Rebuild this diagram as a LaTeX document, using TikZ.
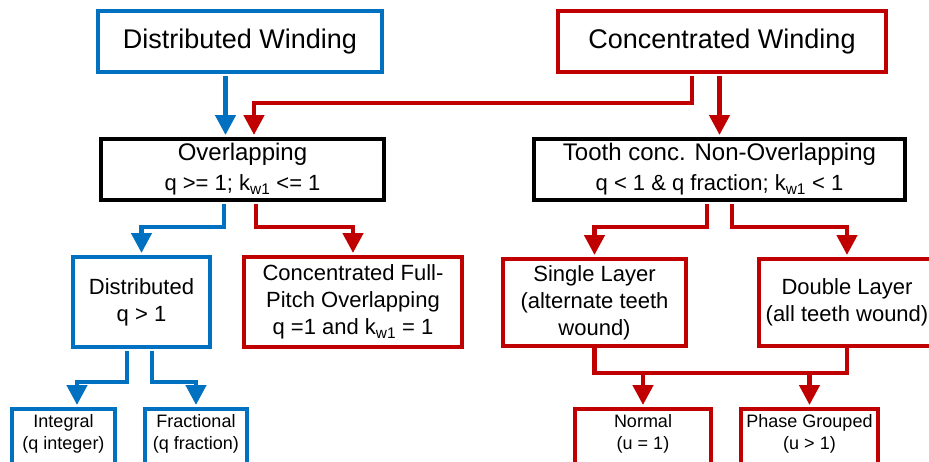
\documentclass[tikz,border=0pt]{standalone}
\usepackage{fontspec}
\setmainfont{Liberation Sans}
\usetikzlibrary{arrows.meta,calc}
\definecolor{wblue}{HTML}{0070C0}
\definecolor{wred}{HTML}{C00000}
\begin{document}
\begin{tikzpicture}[x=1pt,y=-1pt,
  box/.style={draw,line width=4pt,rectangle,inner sep=0pt,align=center,fill=white},
  bbox/.style={box,draw=wblue},
  rbox/.style={box,draw=wred},
  kbox/.style={box,draw=black},
  fa/.style={font=\fontsize{27}{32}\selectfont},
  fb/.style={font=\fontsize{24}{30}\selectfont},
  fc/.style={font=\fontsize{22}{27}\selectfont},
  fd/.style={font=\fontsize{18}{22}\selectfont},
  conn/.style={line width=4.5pt,shorten <=2pt,shorten >=2pt,-{Triangle[width=20pt,length=20pt]}},
  bl/.style={conn,draw=wblue},
  rd/.style={conn,draw=wred},
  rline/.style={line width=4.5pt,draw=wred}]
\useasboundingbox (0,0) rectangle (929,461);
\clip (0,0) rectangle (929,461);
\fill[white] (0,0) rectangle (929,461);
% level 1
\node[bbox,minimum width=284pt,minimum height=61pt,fa] (dw) at (240,41.5) {Distributed Winding};
\node[rbox,minimum width=328pt,minimum height=61pt,fa] (cw) at (722,41.5) {Concentrated Winding};
% level 2
\node[kbox,minimum width=283pt,minimum height=61pt,fb] (ov) at (242.5,169.5)
  {Overlapping\\{\fontsize{22}{26}\selectfont q >= 1; k\textsubscript{w1} <= 1}};
\node[kbox,minimum width=371pt,minimum height=61pt,fb] (tc) at (719.5,169.5)
  {Tooth conc. Non-Overlapping\\{\fontsize{22}{26}\selectfont q < 1 \& q fraction; k\textsubscript{w1} < 1}};
% level 3
\node[bbox,minimum width=137pt,minimum height=90pt,fc] (dq) at (141.5,302) {Distributed\\q > 1};
\node[rbox,minimum width=218pt,minimum height=90pt,fc] (fp) at (353,302)
  {Concentrated Full-\\Pitch Overlapping\\q =1 and k\textsubscript{w1} = 1};
\node[rbox,minimum width=183pt,minimum height=87pt,fc] (sl) at (594.5,302.5)
  {Single Layer\\(alternate teeth\\wound)};
\node[rbox,minimum width=176pt,minimum height=87pt,fc] (dl) at (847,302.5)
  {Double Layer\\(all teeth wound)};
% level 4
\node[bbox,minimum width=103pt,minimum height=62pt] (ig) at (63.5,440) {};
\node[bbox,minimum width=102pt,minimum height=62pt] (fr) at (196,440) {};
\node[rbox,minimum width=136pt,minimum height=62pt] (nm) at (643,440) {};
\node[rbox,minimum width=137pt,minimum height=62pt] (pg) at (809.5,440) {};
\node[fd,align=center,inner sep=0pt] (igt) at (63.5,434) {Integral\\(q integer)};
\node[fd,align=center,inner sep=0pt] (frt) at (196,434) {Fractional\\(q fraction)};
\node[fd,align=center,inner sep=0pt] (nmt) at (643,434) {Normal\\(u = 1)};
\node[fd,align=center,inner sep=0pt] (pgt) at (809.5,434) {Phase Grouped\\(u > 1)};
% helper coordinates
\coordinate (yA) at (0,103);
\coordinate (yB) at (0,227);
\coordinate (yC) at (0,382);
\coordinate (yD) at (0,373);
\coordinate (xb1) at (225.5,0);
\coordinate (xr1) at (692,0);
\coordinate (xr2) at (254,0);
\coordinate (xb2) at (224,0);
\coordinate (xr3) at (256,0);
\coordinate (xr4) at (707,0);
\coordinate (xr5) at (732,0);
\coordinate (xb3) at (127,0);
\coordinate (xb4) at (152,0);
\coordinate (xb5) at (77,0);
% connectors
\draw[bl] (xb1 |- dw.south) -- (xb1 |- ov.north);
\draw[rd] (xr1 |- cw.south) |- (xr2 |- yA) -- (xr2 |- ov.north);
\draw[rd] (tc.north |- cw.south) -- (tc.north);
\draw[bl] (xb2 |- ov.south) |- (dq.north |- yB) -- (dq.north);
\draw[rd] (xr3 |- ov.south) |- (fp.north |- yB) -- (fp.north);
\draw[rd] (xr4 |- tc.south) |- (sl.north |- yB) -- (sl.north);
\draw[rd] (xr5 |- tc.south) |- (dl.north |- yB) -- (dl.north);
\draw[bl] (xb3 |- dq.south) |- (xb5 |- yC) -- (xb5 |- ig.north);
\draw[bl] (xb4 |- dq.south) |- (fr.north |- yC) -- (fr.north);
\draw[rline] (sl.south) |- (dl.south |- yD) -- (dl.south);
\draw[rd,shorten <=0pt] (nm.north |- yD) -- (nm.north);
\draw[rd,shorten <=0pt] (pg.north |- yD) -- (pg.north);
\end{tikzpicture}
\end{document}
